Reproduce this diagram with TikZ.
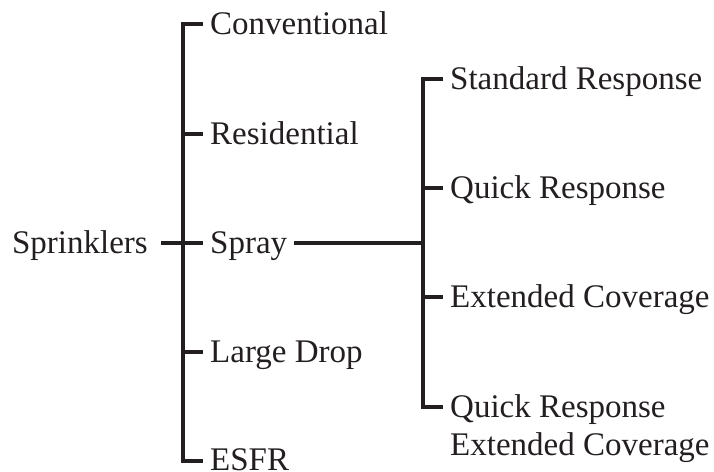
\documentclass[tikz,border=0pt]{standalone}
\usepackage{fontspec}
\setmainfont{Liberation Serif}
\definecolor{ink}{HTML}{231F20}
\begin{document}
\begin{tikzpicture}[x=1pt,y=-1pt,
  lbl/.style={anchor=base west, inner xsep=7pt, inner ysep=0pt, text height=27pt, text depth=7pt, font=\fontsize{33}{38}\selectfont, text=ink},
  wire/.style={draw=ink, line width=3.2pt, line join=miter, line cap=butt}]
\useasboundingbox (0,0) rectangle (714,471);
% left level
\node[lbl] (conv) at (203,34) {Conventional};
\node[lbl] (resi) at (203,144) {Residential};
\node[lbl] (spray) at (203,253) {Spray};
\node[lbl] (ldrop) at (203,362) {Large Drop};
\node[lbl, text depth=0pt, text height=22pt] (esfr) at (203,470) {ESFR};
\node[lbl, anchor=base east, inner xsep=13pt] (spr) at (161,253) {Sprinklers};
% right level
\node[lbl] (std) at (443,89) {Standard Response};
\node[lbl] (qr) at (443,198) {Quick Response};
\node[lbl] (ec) at (443,307) {Extended Coverage};
\node[anchor=north west, inner xsep=7pt, inner ysep=0pt, align=left, font=\fontsize{33}{38}\selectfont, text=ink] (qrec) at (443,394) {Quick Response\\Extended Coverage};
% junctions
\coordinate (b1) at (183,24);
\coordinate (b2) at (183,134);
\coordinate (b3) at (183,243);
\coordinate (b4) at (183,352);
\coordinate (b5) at (183,461);
\coordinate (c0) at (423,243);
\coordinate (c1) at (423,79);
\coordinate (c2) at (423,188);
\coordinate (c3) at (423,297);
\coordinate (c4) at (423,407);
% connectors
\draw[wire] (conv.west |- b1) -- (b1) -- (b5) -- (esfr.west |- b5);
\draw[wire] (b2) -- (resi.west |- b2);
\draw[wire] (b4) -- (ldrop.west |- b4);
\draw[wire] (spr.east |- b3) -- (spray.west |- b3);
\draw[wire] (spray.east |- b3) -- (c0);
\draw[wire] (std.west |- c1) -- (c1) -- (c4) -- (qrec.west |- c4);
\draw[wire] (c2) -- (qr.west |- c2);
\draw[wire] (c3) -- (ec.west |- c3);
\end{tikzpicture}
\end{document}
